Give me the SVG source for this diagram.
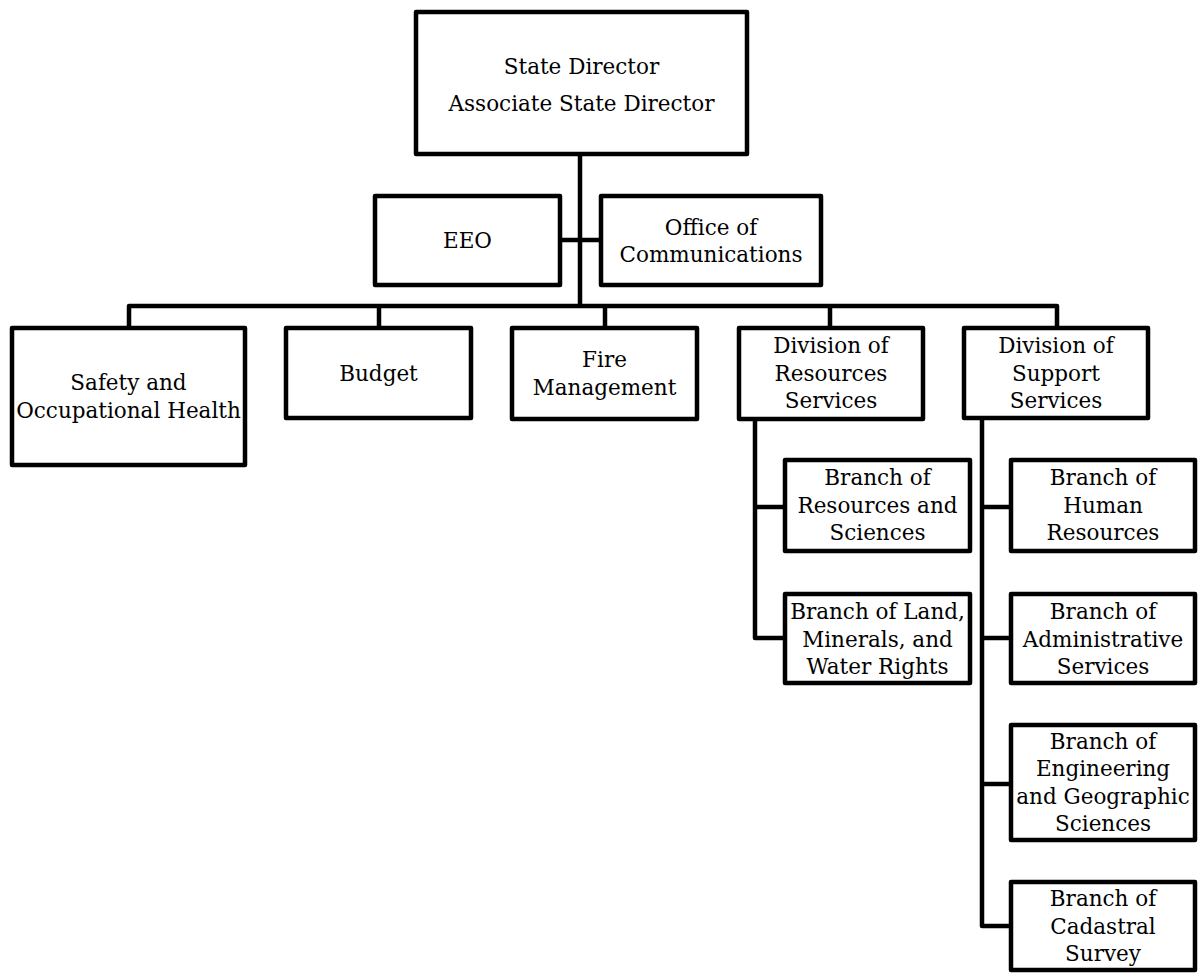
<svg xmlns="http://www.w3.org/2000/svg" width="1199" height="973" viewBox="0 0 1199 973">
<style>
.box{fill:#fff;stroke:#000;stroke-width:4.5;stroke-linejoin:round}
.ln{fill:none;stroke:#000;stroke-width:4.5;stroke-linejoin:round}
text{font-family:"DejaVu Serif","Liberation Serif",serif;font-size:21.5px;fill:#000;text-anchor:middle}
</style>
<rect width="1199" height="973" fill="#fff"/>
<g id="connectors">
<path class="ln" d="M580,154 V306"/>
<path class="ln" d="M560,240 H601"/>
<path class="ln" d="M129,328 V306 H1057 V328"/>
<path class="ln" d="M379,306 V328"/>
<path class="ln" d="M605,306 V328"/>
<path class="ln" d="M830,306 V328"/>
<path class="ln" d="M755,419 V638 H785"/>
<path class="ln" d="M755,507 H785"/>
<path class="ln" d="M982,418 V926 H1011"/>
<path class="ln" d="M982,507 H1011"/>
<path class="ln" d="M982,638 H1011"/>
<path class="ln" d="M982,784 H1011"/>
</g>
<g id="state-director">
<rect class="box" x="416" y="12" width="331" height="142"/>
<text x="581.5" y="74">State Director</text>
<text x="581.5" y="111">Associate State Director</text>
</g>
<g id="eeo">
<rect class="box" x="375" y="196" width="185" height="89"/>
<text x="467.5" y="248">EEO</text>
</g>
<g id="office-communications">
<rect class="box" x="601" y="196" width="220" height="89"/>
<text x="711" y="234.5">Office of</text>
<text x="711" y="262">Communications</text>
</g>
<g id="safety">
<rect class="box" x="12" y="328" width="233" height="137"/>
<text x="128.5" y="390">Safety and</text>
<text x="128.5" y="417.5">Occupational Health</text>
</g>
<g id="budget">
<rect class="box" x="286" y="328" width="185" height="90"/>
<text x="378.5" y="381">Budget</text>
</g>
<g id="fire-management">
<rect class="box" x="512" y="328" width="185" height="91"/>
<text x="604.5" y="367">Fire</text>
<text x="604.5" y="394.5">Management</text>
</g>
<g id="division-resources">
<rect class="box" x="739" y="328" width="184" height="91"/>
<text x="831" y="353">Division of</text>
<text x="831" y="380.5">Resources</text>
<text x="831" y="408">Services</text>
</g>
<g id="division-support">
<rect class="box" x="964" y="328" width="184" height="90"/>
<text x="1056" y="353">Division of</text>
<text x="1056" y="380.5">Support</text>
<text x="1056" y="408">Services</text>
</g>
<g id="branch-resources-sciences">
<rect class="box" x="785" y="460" width="185" height="91"/>
<text x="877.5" y="485">Branch of</text>
<text x="877.5" y="512.5">Resources and</text>
<text x="877.5" y="540">Sciences</text>
</g>
<g id="branch-land">
<rect class="box" x="785" y="594" width="185" height="89"/>
<text x="877.5" y="619">Branch of Land,</text>
<text x="877.5" y="646.5">Minerals, and</text>
<text x="877.5" y="674">Water Rights</text>
</g>
<g id="branch-human-resources">
<rect class="box" x="1011" y="460" width="184" height="91"/>
<text x="1103" y="485">Branch of</text>
<text x="1103" y="512.5">Human</text>
<text x="1103" y="540">Resources</text>
</g>
<g id="branch-administrative">
<rect class="box" x="1011" y="594" width="184" height="89"/>
<text x="1103" y="619">Branch of</text>
<text x="1103" y="646.5">Administrative</text>
<text x="1103" y="674">Services</text>
</g>
<g id="branch-engineering">
<rect class="box" x="1011" y="725" width="184" height="115"/>
<text x="1103" y="748.5">Branch of</text>
<text x="1103" y="776">Engineering</text>
<text x="1103" y="803.5">and Geographic</text>
<text x="1103" y="831">Sciences</text>
</g>
<g id="branch-cadastral">
<rect class="box" x="1011" y="882" width="184" height="88"/>
<text x="1103" y="906">Branch of</text>
<text x="1103" y="933.5">Cadastral</text>
<text x="1103" y="961">Survey</text>
</g>
</svg>
